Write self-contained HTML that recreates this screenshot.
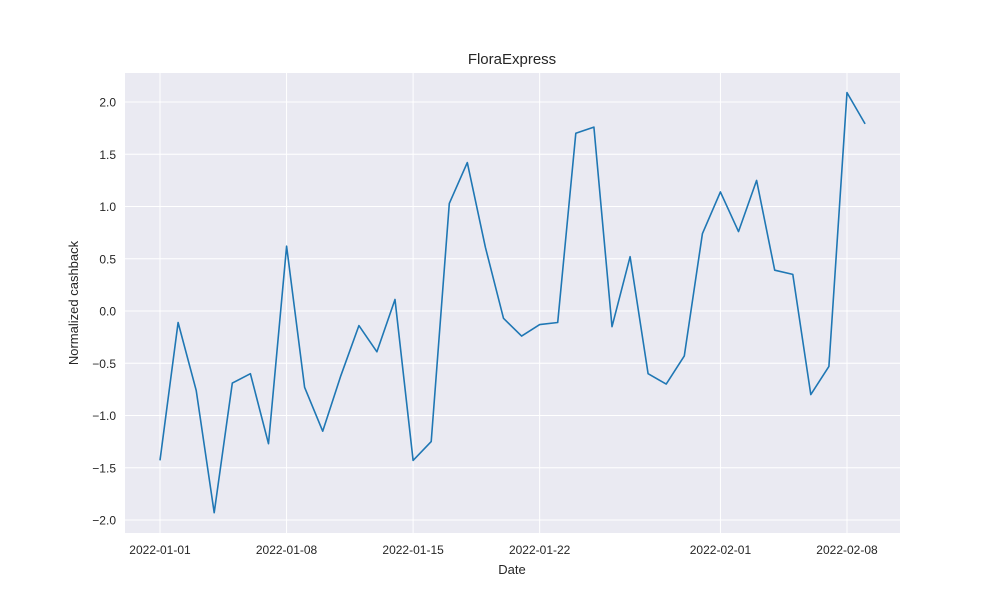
<!DOCTYPE html>
<html><head><meta charset="utf-8"><style>
body{margin:0;background:#fff;}
svg{font-family:"Liberation Sans","DejaVu Sans",sans-serif;}
</style></head><body>
<svg id="chart" width="1000" height="600">
<rect x="0" y="0" width="1000" height="600" fill="#fff"/>
<rect x="125" y="73" width="775" height="460" fill="#eaeaf2"/>
<g id="grid"></g>
<g id="ticks"></g>
<path id="line" fill="none" stroke="#1f77b4" stroke-width="1.6" stroke-linejoin="round"/>
<text x="512" y="64" text-anchor="middle" font-size="15" fill="#262626">FloraExpress</text>
<text x="512" y="574" text-anchor="middle" font-size="13" fill="#262626">Date</text>
<text transform="translate(78,303) rotate(-90)" text-anchor="middle" font-size="13" fill="#262626">Normalized cashback</text>
</svg>
<script>
const values=[-1.43,-0.11,-0.76,-1.93,-0.69,-0.60,-1.27,0.62,-0.73,-1.15,-0.62,-0.14,-0.39,0.11,-1.43,-1.25,1.03,1.42,0.61,-0.07,-0.24,-0.13,-0.11,1.70,1.76,-0.15,0.52,-0.60,-0.70,-0.43,0.74,1.14,0.76,1.25,0.39,0.35,-0.80,-0.53,2.09,1.79];
const yTicks=[-2.0,-1.5,-1.0,-0.5,0.0,0.5,1.0,1.5,2.0];
const xTickDays=[0,7,14,21,31,38];
const xTickLabels=["2022-01-01","2022-01-08","2022-01-15","2022-01-22","2022-02-01","2022-02-08"];
const xs=d=>160+d*(687/38);
const ys=v=>311-v*104.5;
const NS="http://www.w3.org/2000/svg";
const grid=document.getElementById('grid'),ticks=document.getElementById('ticks');
yTicks.forEach(t=>{
 const l=document.createElementNS(NS,'line');
 l.setAttribute('x1',125);l.setAttribute('x2',900);l.setAttribute('y1',ys(t));l.setAttribute('y2',ys(t));
 l.setAttribute('stroke','#fff');l.setAttribute('stroke-width','1');
 
 
 grid.appendChild(l);
 const tx=document.createElementNS(NS,'text');
 tx.setAttribute('x',116);tx.setAttribute('y',ys(t)+4.5);tx.setAttribute('text-anchor','end');
 tx.setAttribute('font-size','12');tx.setAttribute('fill','#262626');
 tx.textContent=t.toFixed(1).replace('-','\u2212');
 
 
 ticks.appendChild(tx);
});
xTickDays.forEach((d,i)=>{
 const l=document.createElementNS(NS,'line');
 l.setAttribute('x1',xs(d));l.setAttribute('x2',xs(d));l.setAttribute('y1',73);l.setAttribute('y2',533);
 l.setAttribute('stroke','#fff');l.setAttribute('stroke-width','1');
 
 
 grid.appendChild(l);
 const tx=document.createElementNS(NS,'text');
 tx.setAttribute('x',xs(d));tx.setAttribute('y',554);tx.setAttribute('text-anchor','middle');
 tx.setAttribute('font-size','12');tx.setAttribute('fill','#262626');
 tx.textContent=xTickLabels[i];
 
 
 ticks.appendChild(tx);
});
document.getElementById('line').setAttribute('d',values.map((v,i)=>(i?'L':'M')+xs(i).toFixed(1)+','+ys(v).toFixed(1)).join(''));
</script>
</body></html>
